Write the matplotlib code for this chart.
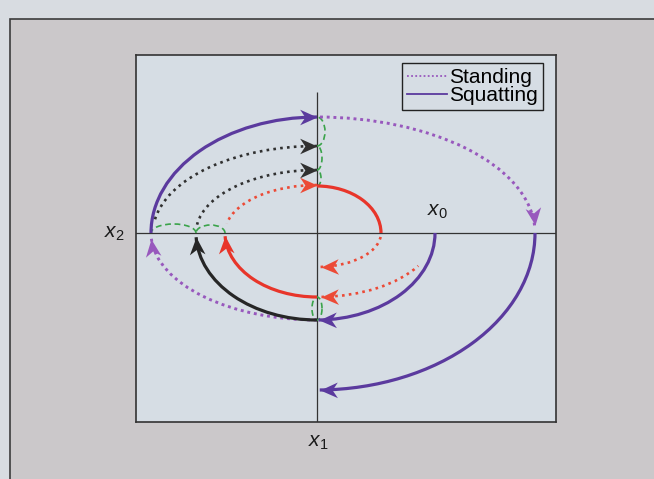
import numpy as np
import matplotlib
matplotlib.use('Agg')
import matplotlib.pyplot as plt
from matplotlib.patches import Arc, Rectangle
from matplotlib.markers import MarkerStyle
from matplotlib.path import Path
from matplotlib.transforms import Affine2D
from matplotlib.lines import Line2D

plt.rcParams['font.family'] = ['Liberation Sans', 'DejaVu Sans']
plt.rcParams['mathtext.fontset'] = 'custom'
plt.rcParams['mathtext.rm'] = 'Liberation Sans'
plt.rcParams['mathtext.it'] = 'Liberation Sans:italic'

# trajectories in the (x2, x1) plane: semi-axes a, b and travel from start to end angle (deg)
traj_a     = [166, 218, 118, 218, 166, 121, 164, 121, 64, 92, 92, 64, 118]
traj_b     = [116, 157, 87, 116, 87, 87, 87, 63, 47, 64, 48, 34, 64]
traj_start = [180, 0, 0, 90, -90, -90, 176, 176, 90, -90, 174, 0, -18]
traj_end   = [90, -89, -89, 2, -178, -178, 90, 90, 0, -178, 90, -84, -86]
traj_kind  = ['squat', 'squat', 'squat', 'stand', 'stand',
              'black', 'black_dot', 'black_dot',
              'red', 'red', 'red_dot', 'red_dot', 'red_dot']
traj_arrow = [1, 1, 1, 1, 1, 1, 1, 1, 0, 1, 1, 1, 1]

# switching arcs (green dashed): centre, width, height, angle range
sw_cx = [-143.5, -106.5, 0, 0, 0, 0]
sw_cy = [0, 0, 101.5, 75, 55, -75.5]
sw_w  = [45, 29, 16, 10, 8, 10]
sw_h  = [18, 16, 29, 24, 16, 23]
sw_t1 = [0, 0, -90, -90, -90, 0]
sw_t2 = [180, 180, 90, 90, 90, 360]

styles = {
    'squat':     dict(color='#5b3a9e', ls='-', lw=2.3),
    'stand':     dict(color='#9858bd', ls=(0, (1, 1.3)), lw=2.1),
    'black':     dict(color='#262626', ls='-', lw=2.3),
    'black_dot': dict(color='#303030', ls=(0, (1, 1.6)), lw=1.9),
    'red':       dict(color='#e8352a', ls='-', lw=2.3),
    'red_dot':   dict(color='#ec4a36', ls=(0, (1, 1.6)), lw=1.9),
}

W, H = 654, 479
fig = plt.figure(figsize=(W / 100, H / 100), dpi=100)

# page background and panel frame
bg = fig.add_axes([0, 0, 1, 1])
bg.set_xlim(0, W)
bg.set_ylim(H, 0)
bg.axis('off')
bg.add_patch(Rectangle((0, 0), W, H, facecolor='#d8dce1', edgecolor='none'))
bg.add_patch(Rectangle((10, 19), W + 10, H + 10, facecolor='#cbc8ca',
                       edgecolor='#3c3c3c', lw=1.2))

# plot box
bx0, by0, bx1, by1 = 136, 55, 556, 422
ox, oy = 317, 233
ax = fig.add_axes([bx0 / W, (H - by1) / H, (bx1 - bx0) / W, (by1 - by0) / H])
ax.set_xlim(bx0 - ox, bx1 - ox)
ax.set_ylim(oy - by1, oy - by0)
ax.set_facecolor('#d6dde4')
ax.set_xticks([])
ax.set_yticks([])
for s in ax.spines.values():
    s.set_color('#333333')
    s.set_linewidth(1.2)

ax.axhline(0, color='#333333', lw=0.9, zorder=1)
ax.vlines(0, oy - by1, 141, color='#333333', lw=0.9, zorder=1)

# stealth arrowhead with tip at origin, pointing +x
head = Path([(0, 0), (-1, 0.45), (-0.7, 0), (-1, -0.45), (0, 0)],
            [Path.MOVETO, Path.LINETO, Path.LINETO, Path.LINETO, Path.CLOSEPOLY])

def ellipse_point(a, b, phi):
    t = np.arctan2(a * np.sin(np.deg2rad(phi)), b * np.cos(np.deg2rad(phi)))
    return t, a * np.cos(t), b * np.sin(t)

for a, b, t0, t1, kind, arr in zip(traj_a, traj_b, traj_start, traj_end,
                                    traj_kind, traj_arrow):
    st = styles[kind]
    ax.add_patch(Arc((0, 0), 2 * a, 2 * b, theta1=min(t0, t1), theta2=max(t0, t1),
                     color=st['color'], ls=st['ls'], lw=st['lw'], zorder=3))
    if arr:
        t, px, py = ellipse_point(a, b, t1)
        sgn = np.sign(t1 - t0)
        dx, dy = -a * np.sin(t) * sgn, b * np.cos(t) * sgn
        ang = np.degrees(np.arctan2(dy, dx))
        m = MarkerStyle(head, transform=Affine2D().rotate_deg(ang))
        ax.plot(px, py, marker=m, ms=25, color=st['color'], mec='none', zorder=4)

for cx, cy, w, h, a1, a2 in zip(sw_cx, sw_cy, sw_w, sw_h, sw_t1, sw_t2):
    ax.add_patch(Arc((cx, cy), w, h, theta1=a1, theta2=a2, color='#3aa34a',
                     ls=(0, (3.5, 2.2)), lw=1.2, zorder=2))

ax.text(120, 12, '$x_0$', fontsize=15, ha='center', va='bottom', color='#1a1a1a')
ax.text(1, -209, '$x_1$', fontsize=15, ha='center', va='center', color='#1a1a1a',
        clip_on=False)
ax.text(-203, 0, '$x_2$', fontsize=15, ha='center', va='center', color='#1a1a1a',
        clip_on=False)

handles = [Line2D([], [], **styles['stand']), Line2D([], [], **styles['squat'])]
for h_ in handles:
    h_.set_linewidth(1.3)
leg = ax.legend(handles, ['Standing', 'Squatting'], loc='upper right',
                bbox_to_anchor=((543 - bx0) / (bx1 - bx0), (by1 - 63) / (by1 - by0)),
                borderaxespad=0, fontsize=15, frameon=True, fancybox=False,
                edgecolor='#222222', facecolor='#d6dde4', framealpha=1,
                handlelength=1.9, handletextpad=0.1, labelspacing=-0.05,
                borderpad=0.25)
leg.get_frame().set_linewidth(1.0)

fig.savefig('out.png', dpi=100)
